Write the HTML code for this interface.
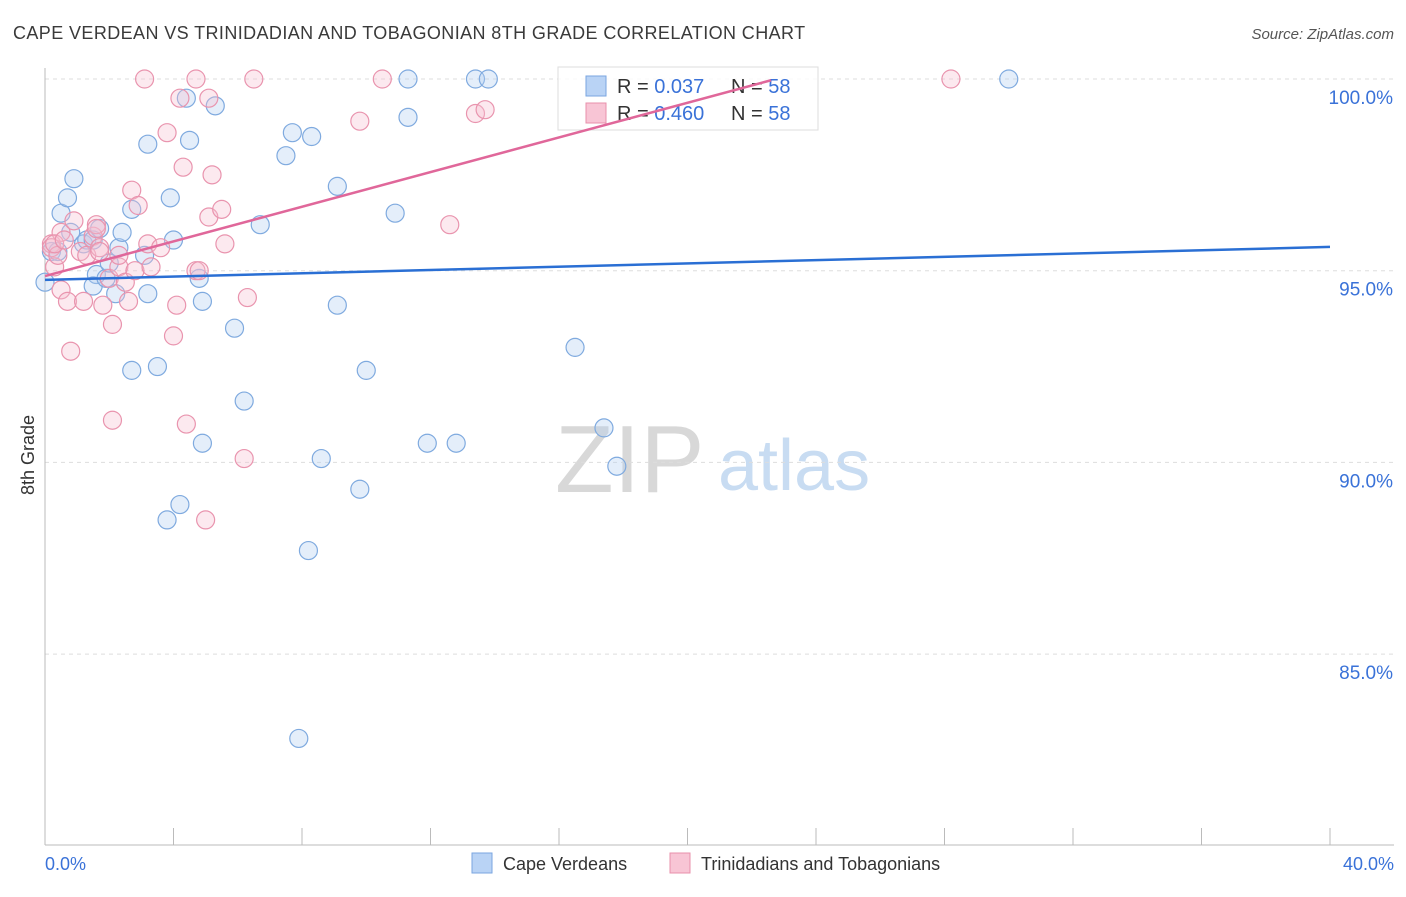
<!DOCTYPE html>
<html><head><meta charset="utf-8"><style>
body{margin:0;background:#fff;font-family:"Liberation Sans",sans-serif;}
svg text{font-family:"Liberation Sans",sans-serif;}
</style></head><body>
<svg id="chart" width="1406" height="892" xmlns="http://www.w3.org/2000/svg">
<text x="13" y="39" font-size="18" fill="#3a3a3a" letter-spacing="0.4">CAPE VERDEAN VS TRINIDADIAN AND TOBAGONIAN 8TH GRADE CORRELATION CHART</text>
<text x="1394" y="39" font-size="15" fill="#555" font-style="italic" text-anchor="end">Source: ZipAtlas.com</text>
<g>
<text x="555" y="492" font-size="96" font-family="Liberation Serif" fill="#d8d8d8">ZIP</text>
<text x="718" y="490" font-size="72" fill="#c8dcf2">atlas</text>
</g>
<g id="grid"></g>
<g id="axes"></g>
<g id="pts"></g>
<g>
<rect x="558" y="67" width="260" height="63" fill="#fff" fill-opacity="0.85" stroke="#ddd"/>
<rect x="586" y="76" width="20" height="20" fill="#b9d3f5" stroke="#7aa6e0"/>
<rect x="586" y="103" width="20" height="20" fill="#f8c5d5" stroke="#e890ab"/>
<text x="617" y="93" font-size="20" fill="#333">R = <tspan fill="#3a72d8">0.037</tspan></text>
<text x="731" y="93" font-size="20" fill="#333">N = <tspan fill="#3a72d8">58</tspan></text>
<text x="617" y="120" font-size="20" fill="#333">R = <tspan fill="#3a72d8">0.460</tspan></text>
<text x="731" y="120" font-size="20" fill="#333">N = <tspan fill="#3a72d8">58</tspan></text>
</g>
<g id="lines"></g>
<text transform="translate(34,455) rotate(-90)" font-size="18" fill="#333" text-anchor="middle">8th Grade</text>
<text x="45" y="870" font-size="18" fill="#3a72d8">0.0%</text>
<text x="1394" y="870" font-size="18" fill="#3a72d8" text-anchor="end">40.0%</text>
<g>
<rect x="472" y="853" width="20" height="20" fill="#b9d3f5" stroke="#7aa6e0"/>
<text x="503" y="870" font-size="18" fill="#333">Cape Verdeans</text></g>
<g>
<rect x="670" y="853" width="20" height="20" fill="#f8c5d5" stroke="#e890ab"/>
<text x="701" y="870" font-size="18" fill="#333">Trinidadians and Tobagonians</text></g>
</svg>
<script>
const yTicks=[100,95,90,85];
const yTickLabels=["100.0%","95.0%","90.0%","85.0%"];
const xTicks=[0,4,8,12,16,20,24,28,32,36,40];
const blueX=[0.0,0.2,0.4,0.5,0.7,0.9,0.8,1.2,1.3,1.5,1.6,1.5,1.7,1.9,2.0,2.2,2.3,2.4,2.7,3.1,3.2,3.2,2.7,3.5,3.8,3.9,4.0,4.2,4.4,4.5,4.8,4.9,4.9,5.3,5.9,6.2,6.7,7.5,7.7,8.3,8.2,7.9,8.6,9.1,9.1,9.8,10.0,10.9,11.3,11.3,11.9,12.8,13.4,13.8,16.5,17.4,17.8,30.0];
const blueY=[94.7,95.5,95.5,96.5,96.9,97.4,96.0,95.7,95.8,95.8,94.9,94.6,96.1,94.8,95.2,94.4,95.6,96.0,96.6,95.4,94.4,98.3,92.4,92.5,88.5,96.9,95.8,88.9,99.5,98.4,94.8,94.2,90.5,99.3,93.5,91.6,96.2,98.0,98.6,98.5,87.7,82.8,90.1,97.2,94.1,89.3,92.4,96.5,99.0,100,90.5,90.5,100,100,93.0,90.9,89.9,100];
const pinkX=[0.2,0.2,0.3,0.4,0.5,0.5,0.7,0.8,0.9,1.1,1.2,1.3,1.5,1.6,1.6,1.7,1.8,2.0,2.1,2.1,2.3,2.3,2.5,2.6,2.7,2.8,2.9,3.1,3.2,3.3,3.6,3.8,4.0,4.1,4.2,4.3,4.4,4.7,4.7,4.8,5.0,5.1,5.2,5.5,5.6,6.2,6.3,6.5,9.8,10.5,12.6,13.4,13.7,28.2,5.1,1.7,0.3,0.6];
const pinkY=[95.7,95.6,95.1,95.4,94.5,96.0,94.2,92.9,96.3,95.5,94.2,95.4,95.9,96.2,96.1,95.6,94.1,94.8,93.6,91.1,95.1,95.4,94.7,94.2,97.1,95.0,96.7,100,95.7,95.1,95.6,98.6,93.3,94.1,99.5,97.7,91.0,95.0,100,95.0,88.5,96.4,97.5,96.6,95.7,90.1,94.3,100,98.9,100,96.2,99.1,99.2,100,99.5,95.5,95.7,95.8];
const blueTrend=[94.76,0.0215,40];
const pinkTrend=[94.86,0.226,22.6];
const NS="http://www.w3.org/2000/svg";
const sx=v=>45+v*32.125, sy=v=>79+(100-v)*38.34;
function mk(tag,attrs,parent){const e=document.createElementNS(NS,tag);for(const k in attrs)e.setAttribute(k,attrs[k]);document.getElementById(parent).appendChild(e);return e;}
yTicks.forEach((t,i)=>{
 const g=mk('line',{x1:45,x2:1394,y1:sy(t),y2:sy(t),stroke:'#ddd','stroke-dasharray':'4,4'},'grid');
 
 
 const l=mk('text',{x:1393,y:sy(t)+25,'font-size':19,fill:'#3a72d8','text-anchor':'end'},'grid');l.textContent=yTickLabels[i];
 
 
});
const ax=mk('line',{x1:45,x2:45,y1:68,y2:845,stroke:'#bbb'},'axes');


const bx=mk('line',{x1:45,x2:1394,y1:845,y2:845,stroke:'#bbb'},'axes');


xTicks.forEach(t=>{const e=mk('line',{x1:sx(t),x2:sx(t),y1:828,y2:845,stroke:'#bbb'},'axes');
 
 });
function pts(X,Y,fill,stroke,name){X.forEach((x,i)=>{const c=mk('circle',{cx:sx(x),cy:sy(Y[i]),r:9,fill:fill,'fill-opacity':0.35,stroke:stroke,'stroke-width':1.2},'pts');
 
 });}
pts(blueX,blueY,'#b3cff2','#7faadf','cape-verdean-point');
pts(pinkX,pinkY,'#f7c0d1','#e994ae','trinidadian-point');
function trend(t,color,name){const l=mk('line',{x1:sx(0),y1:sy(t[0]),x2:sx(t[2]),y2:sy(t[0]+t[1]*t[2]),stroke:color,'stroke-width':2.5},'lines');
 
 }
trend(blueTrend,'#2a6fd4','cape-verdean-trend-line');
trend(pinkTrend,'#e0679a','trinidadian-trend-line');
</script>
</body></html>
